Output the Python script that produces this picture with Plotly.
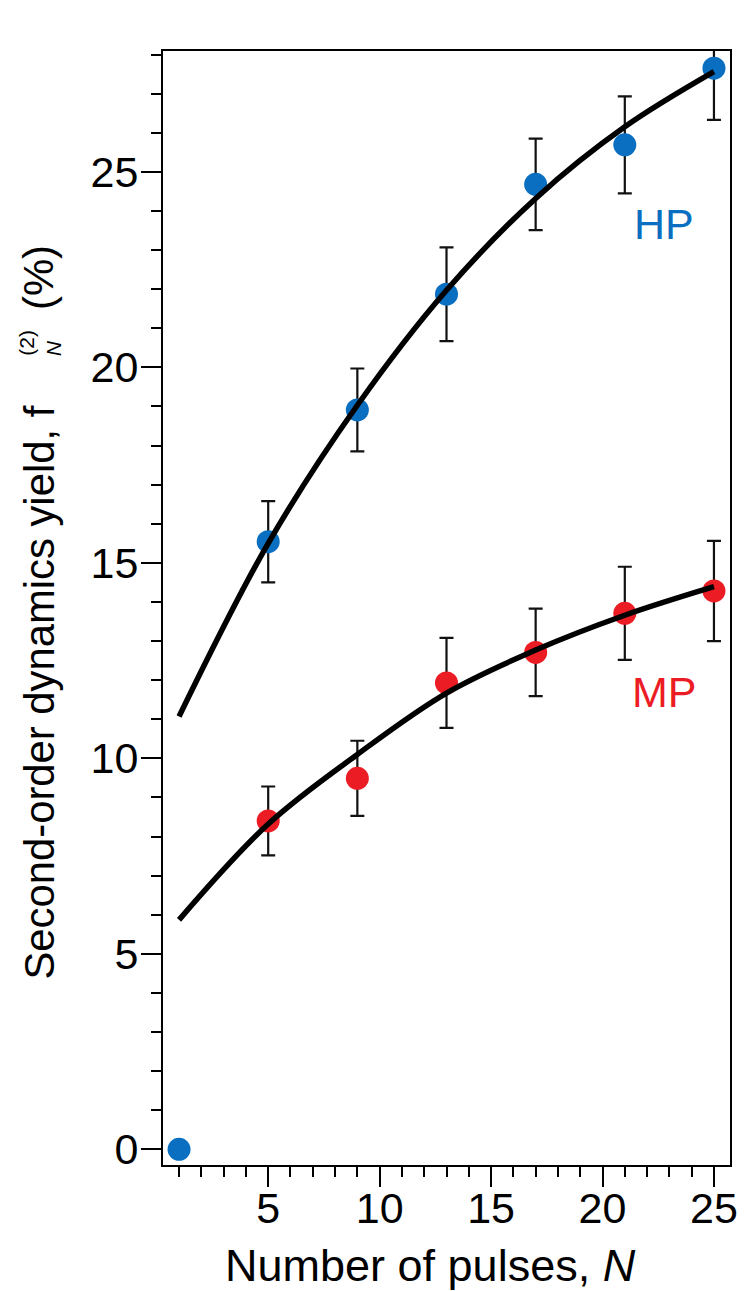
import plotly.graph_objects as go

# Measured second-order dynamics yield (%) vs number of pulses
hp_n = [1, 5, 9, 13, 17, 21, 25]
hp_yield = [0.0, 15.54, 18.91, 21.87, 24.68, 25.69, 27.65]
hp_err = [0.0, 1.04, 1.06, 1.20, 1.17, 1.24, 1.32]

mp_n = [5, 9, 13, 17, 21, 25]
mp_yield = [8.40, 9.49, 11.93, 12.71, 13.71, 14.28]
mp_err = [0.88, 0.96, 1.15, 1.12, 1.19, 1.28]

# Fitted trend curves
fit_n = [1, 5, 9, 13, 17, 21, 25]
hp_fit = [11.07, 15.50, 19.03, 21.97, 24.32, 26.15, 27.56]
mp_fit = [5.87, 8.32, 10.10, 11.67, 12.77, 13.66, 14.39]

x_ticks = [5, 10, 15, 20, 25]
y_ticks = [0, 5, 10, 15, 20, 25]

BLUE = "#0A6FC0"
RED = "#EC1C24"
FONT = "Liberation Sans, Arial, sans-serif"

W, H = 750, 1291
ML, MR, MT, MB = 163, 13, 51, 126
PW, PH = W - ML - MR, H - MT - MB


def px_x(p):
    return (p - ML) / PW


def px_y(p):
    return (H - MB - p) / PH


err_style = dict(type="data", thickness=2.2, width=7, color="#111111")

fig = go.Figure()
fig.add_trace(go.Scatter(
    x=hp_n, y=hp_yield, mode="markers",
    marker=dict(size=23, color=BLUE),
    error_y=dict(array=hp_err, **err_style),
    showlegend=False,
))
fig.add_trace(go.Scatter(
    x=mp_n, y=mp_yield, mode="markers",
    marker=dict(size=23, color=RED),
    error_y=dict(array=mp_err, **err_style),
    showlegend=False,
))
for fit in (hp_fit, mp_fit):
    fig.add_trace(go.Scatter(
        x=fit_n, y=fit, mode="lines",
        line=dict(color="black", width=5.5, shape="spline", smoothing=1.0),
        showlegend=False,
    ))

axis_common = dict(
    showline=True, linecolor="black", linewidth=2, mirror=True,
    ticks="outside", ticklen=20, tickwidth=2, tickcolor="black",
    showgrid=False, zeroline=False,
    tickfont=dict(family=FONT, size=43, color="black"),
)
fig.update_xaxes(
    range=[0.28, 25.72], tickvals=x_ticks,
    minor=dict(dtick=1, tick0=0, ticks="outside", ticklen=10, tickwidth=2,
               tickcolor="black", showgrid=False),
    ticklabelstandoff=-16,
    **axis_common,
)
fig.update_yaxes(
    range=[-0.40, 28.09], tickvals=y_ticks,
    minor=dict(dtick=1, tick0=0, ticks="outside", ticklen=10, tickwidth=2,
               tickcolor="black", showgrid=False),
    ticklabelstandoff=-6,
    **axis_common,
)

ann = []
# series labels
ann.append(dict(x=22.76, y=23.66, xref="x", yref="y", text="HP", showarrow=False,
                font=dict(family=FONT, size=43, color=BLUE)))
ann.append(dict(x=22.80, y=11.70, xref="x", yref="y", text="MP", showarrow=False,
                font=dict(family=FONT, size=43, color=RED)))
# x-axis title
ann.append(dict(x=px_x(434), y=px_y(1265), xref="paper", yref="paper",
                text="Number of pulses, <i>N</i>", showarrow=False,
                xanchor="center", yanchor="middle",
                font=dict(family=FONT, size=45, color="black")))
# y-axis title, assembled so the superscript sits above the subscript
YT = 41.8
ann.append(dict(x=px_x(37), y=px_y(982), xref="paper", yref="paper",
                text="Second-order dynamics yield, f", textangle=-90,
                showarrow=False, xanchor="center", yanchor="bottom",
                font=dict(family=FONT, size=YT, color="black")))
ann.append(dict(x=px_x(25), y=px_y(343), xref="paper", yref="paper",
                text="(2)", textangle=-90,
                showarrow=False, xanchor="center", yanchor="middle",
                font=dict(family=FONT, size=21, color="black")))
ann.append(dict(x=px_x(52), y=px_y(348), xref="paper", yref="paper",
                text="<i>N</i>", textangle=-90,
                showarrow=False, xanchor="center", yanchor="middle",
                font=dict(family=FONT, size=21, color="black")))
ann.append(dict(x=px_x(37), y=px_y(243), xref="paper", yref="paper",
                text="(%)", textangle=-90,
                showarrow=False, xanchor="center", yanchor="top",
                font=dict(family=FONT, size=YT, color="black")))

fig.update_layout(
    width=W, height=H,
    margin=dict(l=ML, r=MR, t=MT, b=MB),
    paper_bgcolor="white", plot_bgcolor="white",
    font=dict(family=FONT, color="black"),
    annotations=ann,
)

fig.write_html("out.html")
